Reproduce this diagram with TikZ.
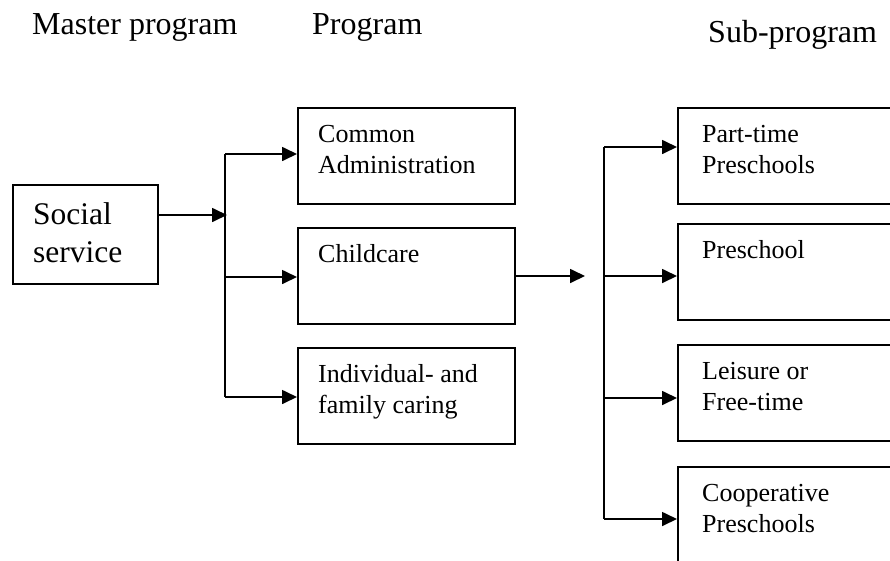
\documentclass[tikz,border=0pt]{standalone}
\usepackage{fontspec}
\setmainfont{Liberation Serif}
\usetikzlibrary{arrows.meta,calc}

\tikzset{
  box/.style={draw, line width=1.7pt, rectangle, anchor=north west,
              minimum width=#1, minimum height=96pt, inner sep=0pt},
  box/.default=217pt,
  % the base anchor of a multi-line node sits on its last line
  boxtext/.style={anchor=base west, inner sep=0pt, align=left,
                  font=\fontsize{26}{31}\selectfont},
  head/.style={anchor=base west, inner sep=0pt, font=\fontsize{32}{38}\selectfont},
  wire/.style={line width=1.7pt},
  arr/.style={line width=1.7pt, -{Triangle[length=15pt,width=14pt]}}
}

\begin{document}
\begin{tikzpicture}[x=1pt, y=-1pt]
\useasboundingbox (0,0) rectangle (890,560);
\clip (0,0) rectangle (890,560);

% column headings
\node[head] (hmaster) at (32,34) {Master program};
\node[head] (hprog)   at (312,34) {Program};
\node[head] (hsub)    at (708,42) {Sub-program};

% master program
\node[draw, line width=1.7pt, anchor=north west, minimum width=145pt,
      minimum height=99pt, inner sep=0pt] (soc) at (12,184) {};
\node[anchor=base west, inner sep=0pt, align=left,
      font=\fontsize{31.5}{38}\selectfont] (soct) at (33,262) {Social\\service};

% programs
\node[box] (ca)  at (297,107) {};
\node[box] (cc)  at (297,227) {};
\node[box] (ind) at (297,347) {};
\node[boxtext] (cat)  at ($(ca.north west)+(21,66)$)  {Common\\Administration};
\node[boxtext] (cct)  at ($(cc.north west)+(21,35)$)  {Childcare};
\node[boxtext] (indt) at ($(ind.north west)+(21,66)$) {Individual- and\\family caring};

% sub-programs
\node[box=240pt] (pt)  at (677,107) {};
\node[box=240pt] (ps)  at (677,223) {};
\node[box=240pt] (lf)  at (677,344) {};
\node[box=240pt] (cp)  at (677,466) {};
\node[boxtext] (ptt) at ($(pt.north west)+(25,66)$) {Part-time\\Preschools};
\node[boxtext] (pst) at ($(ps.north west)+(25,35)$) {Preschool};
\node[boxtext] (lft) at ($(lf.north west)+(25,66)$) {Leisure or\\Free-time};
\node[boxtext] (cpt) at ($(cp.north west)+(25,66)$) {Cooperative\\Preschools};

% branching from the master program
\coordinate (j1) at (227,215);
\coordinate (b1) at (225,154);
\coordinate (b2) at (225,277);
\coordinate (b3) at (225,397);
\draw[arr] (soc.east |- j1) -- (j1);
\draw[wire] (b1) -- (b3);
\draw[arr] (b1) -- (b1 -| ca.west);
\draw[arr] (b2) -- (b2 -| cc.west);
\draw[arr] (b3) -- (b3 -| ind.west);

% branching from childcare
\coordinate (j2) at (585,276);
\coordinate (s1) at (604,147);
\coordinate (s2) at (604,276);
\coordinate (s3) at (604,398);
\coordinate (s4) at (604,519);
\draw[arr] (cc.east |- j2) -- (j2);
\draw[wire] (s1) -- (s4);
\draw[arr] (s1) -- (s1 -| pt.west);
\draw[arr] (s2) -- (s2 -| ps.west);
\draw[arr] (s3) -- (s3 -| lf.west);
\draw[arr] (s4) -- (s4 -| cp.west);
\end{tikzpicture}
\end{document}
